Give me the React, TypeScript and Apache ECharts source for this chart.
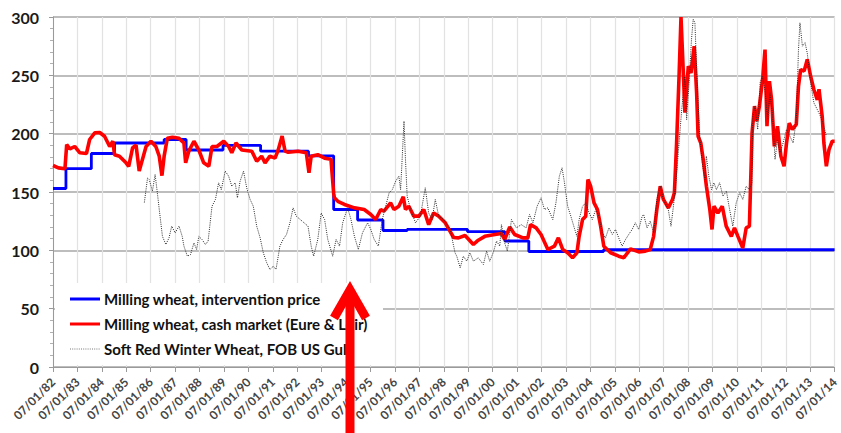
import React, { useEffect, useRef } from "react";
import * as echarts from "echarts";

// ---- data (year as decimal, value in €/t) ----
const seriesNames = [
  "Milling wheat, intervention price",
  "Milling wheat, cash market (Eure & Loir)",
  "Soft Red Winter Wheat, FOB US Gulf",
];

const interventionPrice: [number, number][] = [
  [1982.0, 153], [1982.53, 170], [1983.57, 183], [1984.52, 192], [1986.55, 195],
  [1987.45, 186], [1988.96, 190], [1990.5, 185], [1992.46, 181], [1993.49, 135],
  [1994.47, 126], [1995.51, 117], [1996.5, 118], [1998.97, 116], [2000.5, 108],
  [2001.48, 99], [2004.54, 100.5], [2014.0, 100.5],
];

const cashMarket: [number, number][] = [
  [1982.0, 172.7], [1982.22, 170.7], [1982.49, 170], [1982.56, 190.7], [1982.69, 187],
  [1982.89, 189], [1983.1, 183.6], [1983.37, 183], [1983.5, 195], [1983.71, 200.7],
  [1983.91, 201], [1984.11, 197.8], [1984.32, 189], [1984.45, 193.5], [1984.52, 182],
  [1984.72, 180.7], [1984.99, 175], [1985.1, 172], [1985.26, 188], [1985.4, 190],
  [1985.53, 168], [1985.81, 189], [1986.01, 193.5], [1986.21, 189], [1986.35, 180.7],
  [1986.46, 164], [1986.55, 180.7], [1986.68, 196], [1986.89, 197], [1987.16, 196],
  [1987.36, 192], [1987.43, 175], [1987.56, 185], [1987.77, 193.5], [1987.97, 186],
  [1988.17, 175], [1988.38, 172], [1988.51, 189], [1988.71, 189], [1988.99, 193.5],
  [1989.19, 189], [1989.32, 183.6], [1989.49, 192], [1989.73, 186], [1990.14, 185],
  [1990.34, 176.4], [1990.54, 180.7], [1990.68, 175], [1990.88, 180.7], [1991.09, 179],
  [1991.22, 186], [1991.38, 198], [1991.5, 185], [1991.63, 184], [1992.03, 185],
  [1992.37, 183.6], [1992.48, 166.4], [1992.57, 180.7], [1992.84, 182], [1993.12, 179],
  [1993.38, 178], [1993.49, 149], [1993.52, 145], [1993.66, 142], [1993.93, 139.3],
  [1994.34, 136.4], [1994.74, 135], [1995.01, 130.7], [1995.21, 126.4], [1995.42, 135],
  [1995.55, 133.5], [1995.82, 140.7], [1995.96, 135], [1996.16, 137.8], [1996.34, 145.9],
  [1996.43, 135], [1996.57, 137.8], [1996.77, 129.3], [1996.98, 129.3], [1997.18, 135],
  [1997.38, 122], [1997.58, 132], [1997.79, 129.3], [1998.06, 123.6], [1998.4, 111],
  [1998.6, 110.7], [1998.87, 112.7], [1999.21, 105], [1999.41, 108.7], [1999.68, 112],
  [2000.09, 113.6], [2000.36, 114.4], [2000.49, 109.3], [2000.7, 120], [2000.9, 113.6],
  [2001.24, 110.7], [2001.44, 110.7], [2001.55, 122], [2001.78, 119.3], [2001.98, 113.6],
  [2002.26, 100.7], [2002.53, 103.6], [2002.69, 110.7], [2002.87, 100.7], [2003.07, 97.9],
  [2003.27, 93.6], [2003.45, 97.9], [2003.54, 112], [2003.68, 126.4], [2003.81, 129.3],
  [2003.9, 160.7], [2004.01, 155], [2004.15, 140.7], [2004.29, 135], [2004.42, 120.7],
  [2004.55, 103.5], [2004.83, 97.9], [2005.16, 95], [2005.37, 93.6], [2005.64, 101.3],
  [2005.98, 98.7], [2006.25, 99.3], [2006.45, 100.7], [2006.59, 112], [2006.72, 135],
  [2006.86, 155], [2006.99, 143.6], [2007.19, 136.4], [2007.36, 143.6], [2007.44, 149.3],
  [2007.53, 192], [2007.63, 249], [2007.71, 300], [2007.8, 255], [2007.87, 218],
  [2008.01, 257.8], [2008.12, 252], [2008.25, 275], [2008.35, 235], [2008.41, 197.8],
  [2008.52, 192], [2008.62, 177.9], [2008.75, 155], [2008.89, 135], [2008.98, 117.9],
  [2009.06, 137.8], [2009.22, 132], [2009.4, 137.8], [2009.56, 120.7], [2009.77, 112],
  [2009.9, 119.3], [2010.04, 112], [2010.24, 102], [2010.38, 119.3], [2010.51, 120.7],
  [2010.62, 200.7], [2010.72, 223.6], [2010.81, 210.7], [2010.92, 223.6], [2011.05, 246.4],
  [2011.15, 272], [2011.23, 206.4], [2011.33, 245], [2011.42, 229], [2011.53, 189],
  [2011.66, 206.4], [2011.8, 180.7], [2011.93, 172], [2012.03, 192], [2012.14, 209],
  [2012.27, 203.6], [2012.43, 207.9], [2012.52, 240.7], [2012.61, 255], [2012.75, 253.6],
  [2012.88, 263.6], [2013.02, 249], [2013.15, 237.9], [2013.29, 229], [2013.36, 238],
  [2013.49, 215], [2013.56, 192], [2013.66, 172], [2013.77, 186.4], [2013.9, 193.5],
  [2014.0, 193.5],
];

const srwFob: [number, number][] = [
  [1985.74, 141], [1985.87, 162], [1985.94, 160.7], [1986.07, 150.7], [1986.18, 165],
  [1986.28, 147.9], [1986.35, 135], [1986.48, 112], [1986.62, 105], [1986.75, 110.7],
  [1986.86, 120.7], [1987.0, 115], [1987.16, 120.7], [1987.29, 112], [1987.36, 103.6],
  [1987.5, 95], [1987.63, 96.4], [1987.77, 106.4], [1987.88, 100.7], [1987.97, 112],
  [1988.1, 109.3], [1988.24, 105], [1988.35, 107.9], [1988.51, 137.8], [1988.65, 143.6],
  [1988.78, 157.9], [1988.89, 152], [1989.05, 167.9], [1989.19, 163.6], [1989.32, 155],
  [1989.46, 157.9], [1989.55, 145], [1989.66, 159.3], [1989.8, 167.9], [1989.93, 153.6],
  [1990.07, 143.6], [1990.2, 137.8], [1990.34, 120.7], [1990.48, 110.7], [1990.61, 97.9],
  [1990.75, 89.3], [1990.88, 83.6], [1991.02, 86.4], [1991.13, 83.6], [1991.29, 103.6],
  [1991.42, 109.3], [1991.56, 113.6], [1991.7, 123.6], [1991.83, 136.4], [1991.96, 129.3],
  [1992.44, 120.7], [1992.57, 103.6], [1992.67, 95], [1992.84, 109.3], [1992.98, 132],
  [1993.12, 126.4], [1993.25, 109.3], [1993.45, 95], [1993.59, 109.3], [1993.73, 103.6],
  [1993.86, 123.6], [1994.06, 136.4], [1994.2, 126.4], [1994.34, 112], [1994.5, 100.7],
  [1994.67, 115], [1994.88, 123.6], [1995.01, 117.9], [1995.15, 109.3], [1995.32, 103.6],
  [1995.48, 126.4], [1995.62, 137.8], [1995.76, 149.3], [1995.89, 152], [1996.03, 159.3],
  [1996.16, 163.6], [1996.23, 152], [1996.3, 180.7], [1996.37, 210.7], [1996.43, 177.9],
  [1996.5, 146.4], [1996.64, 135], [1996.84, 123.6], [1997.04, 129.3], [1997.24, 153.6],
  [1997.38, 132], [1997.52, 126.4], [1997.65, 143.6], [1997.79, 129.3], [1997.99, 126.4],
  [1998.26, 117.9], [1998.46, 97.9], [1998.53, 95], [1998.67, 85], [1998.8, 95],
  [1998.94, 90.7], [1999.07, 97.9], [1999.21, 90.7], [1999.41, 93.6], [1999.62, 87.9],
  [1999.75, 99.3], [1999.88, 90.7], [2000.02, 97.9], [2000.16, 107.9], [2000.29, 103.6],
  [2000.36, 122], [2000.49, 106.4], [2000.6, 99.3], [2000.77, 126.4], [2000.97, 119.3],
  [2001.17, 122], [2001.37, 119.3], [2001.51, 130.7], [2001.65, 123.6], [2001.82, 137.8],
  [2001.98, 145], [2002.12, 135], [2002.26, 136.4], [2002.46, 126.4], [2002.59, 140.7],
  [2002.73, 163.6], [2002.84, 170.7], [2002.93, 159.3], [2003.07, 137.8], [2003.2, 129.3],
  [2003.34, 119.3], [2003.45, 112], [2003.54, 126.4], [2003.68, 137.8], [2003.81, 140.7],
  [2003.95, 132], [2004.08, 126.4], [2004.22, 135], [2004.35, 129.3], [2004.49, 115],
  [2004.62, 110.7], [2004.76, 119.3], [2004.9, 113.6], [2005.03, 117.9], [2005.16, 110.7],
  [2005.3, 103.6], [2005.44, 109.3], [2005.57, 113.6], [2005.71, 117.9], [2005.84, 123.6],
  [2005.98, 117.9], [2006.12, 129.3], [2006.18, 130.7], [2006.32, 119.3], [2006.45, 125],
  [2006.59, 115], [2006.72, 143.6], [2006.86, 155], [2006.99, 143.6], [2007.19, 135],
  [2007.3, 120.7], [2007.4, 137.8], [2007.5, 157.9], [2007.74, 220.7], [2007.87, 249],
  [2007.94, 212], [2008.04, 243.6], [2008.14, 280.7], [2008.21, 298], [2008.28, 295],
  [2008.39, 235], [2008.48, 197.8], [2008.58, 175], [2008.69, 160.7], [2008.75, 180.7],
  [2008.85, 163.6], [2008.96, 152], [2009.06, 157.9], [2009.16, 152], [2009.29, 157.9],
  [2009.43, 146.4], [2009.57, 150.7], [2009.7, 135], [2009.83, 120.7], [2009.97, 140.7],
  [2010.11, 149.3], [2010.24, 143.6], [2010.38, 155], [2010.51, 152], [2010.61, 157.9],
  [2010.65, 215], [2010.74, 223.6], [2010.85, 203.6], [2010.95, 243.6], [2011.05, 249],
  [2011.16, 235], [2011.26, 212], [2011.35, 235], [2011.46, 215], [2011.56, 177.9],
  [2011.66, 195], [2011.76, 183.6], [2011.89, 192], [2012.03, 203.6], [2012.17, 197.8],
  [2012.3, 192], [2012.43, 212], [2012.52, 272], [2012.58, 295], [2012.68, 275],
  [2012.79, 278], [2012.88, 269], [2013.02, 243.6], [2013.15, 226.4], [2013.29, 220.7],
  [2013.42, 215], [2013.56, 206.4], [2013.66, 197.8],
];

const xMin = 1982;
const xMax = 2014;
const yTicks = [0, 50, 100, 150, 200, 250, 300];

const FONT = "Lato, 'DejaVu Sans', sans-serif";
const BLUE = "#0000ff";
const RED = "#ff0000";
const GREY = "#2a2a2a";

export default function App() {
  const ref = useRef<HTMLDivElement>(null);

  useEffect(() => {
    if (!ref.current) return;
    const chart = echarts.init(ref.current, null, { renderer: "svg" });

    const legendRows = [
      { name: seriesNames[0], color: BLUE, width: 3, dash: null as null | number[] },
      { name: seriesNames[1], color: RED, width: 3, dash: null as null | number[] },
      { name: seriesNames[2], color: "#777777", width: 1, dash: [1, 1.2] },
    ];
    const legendGraphics: any[] = [];
    legendRows.forEach((r, i) => {
      const y = 299 + i * 25;
      legendGraphics.push({
        type: "line",
        z: 10,
        shape: { x1: 70, y1: y, x2: 100, y2: y },
        style: { stroke: r.color, lineWidth: r.width, lineDash: r.dash || undefined },
      });
      legendGraphics.push({
        type: "text",
        z: 10,
        x: 104,
        y: y,
        style: {
          text: r.name,
          fontFamily: FONT,
          fontWeight: "bold",
          fontSize: 15,
          fill: "#111111",
          verticalAlign: "middle",
          align: "left",
        },
      });
    });

    chart.setOption({
      animation: false,
      backgroundColor: "#ffffff",
      grid: { left: 53, right: 0, top: 17, bottom: 66, containLabel: false },
      xAxis: {
        type: "value",
        min: xMin,
        max: xMax,
        interval: 1,
        axisLine: { show: true, lineStyle: { color: "#9a9a9a", width: 1 } },
        axisTick: { show: true, length: 5, lineStyle: { color: "#9a9a9a" } },
        splitLine: { show: true, lineStyle: { color: "#e2e2e2", width: 1.2 } },
        axisLabel: {
          rotate: 45,
          margin: 13,
          fontFamily: FONT,
          fontWeight: "bold",
          fontSize: 12,
          color: "#444444",
          showMaxLabel: true,
          formatter: (v: number) => "07/01/" + String(Math.round(v)).slice(2),
        },
      },
      yAxis: {
        type: "value",
        min: yTicks[0],
        max: yTicks[yTicks.length - 1],
        interval: 50,
        axisLine: { show: true, lineStyle: { color: "#9a9a9a", width: 1 } },
        axisTick: { show: true, length: 4, lineStyle: { color: "#9a9a9a" } },
        minorTick: { show: true, splitNumber: 5, length: 3, lineStyle: { color: "#b0b0b0" } },
        splitLine: { show: true, lineStyle: { color: "#bdbdbd", width: 1.8 } },
        axisLabel: {
          margin: 14,
          fontFamily: FONT,
          fontWeight: "bold",
          fontSize: 16,
          color: "#1a1a1a",
        },
      },
      graphic: [
        {
          type: "rect",
          z: 5,
          shape: { x: 55, y: 283, width: 328, height: 82 },
          style: { fill: "#ffffff" },
        },
        ...legendGraphics,
        {
          type: "line",
          z: 20,
          shape: { x1: 350, y1: 433, x2: 350, y2: 292 },
          style: { stroke: RED, lineWidth: 9 },
        },
        {
          type: "polyline",
          z: 20,
          shape: { points: [[334, 318], [350, 290], [366, 318]] },
          style: { stroke: RED, lineWidth: 9, lineJoin: "miter", fill: "none" },
        },
      ],
      series: [
        {
          name: seriesNames[0],
          type: "line",
          step: "end",
          symbol: "none",
          data: interventionPrice,
          lineStyle: { color: BLUE, width: 2.8 },
          itemStyle: { color: BLUE },
          z: 2,
        },
        {
          name: seriesNames[1],
          type: "line",
          symbol: "none",
          data: cashMarket,
          lineStyle: { color: RED, width: 3.6 },
          itemStyle: { color: RED },
          z: 3,
        },
        {
          name: seriesNames[2],
          type: "line",
          symbol: "none",
          data: srwFob,
          lineStyle: { color: GREY, width: 1, type: [1, 1.2] },
          itemStyle: { color: GREY },
          z: 4,
        },
      ],
    });
    return () => chart.dispose();
  }, []);

  return (
    <div
      ref={ref}
      style={{ position: "fixed", left: 0, top: 0, width: 841, height: 433 }}
    />
  );
}
